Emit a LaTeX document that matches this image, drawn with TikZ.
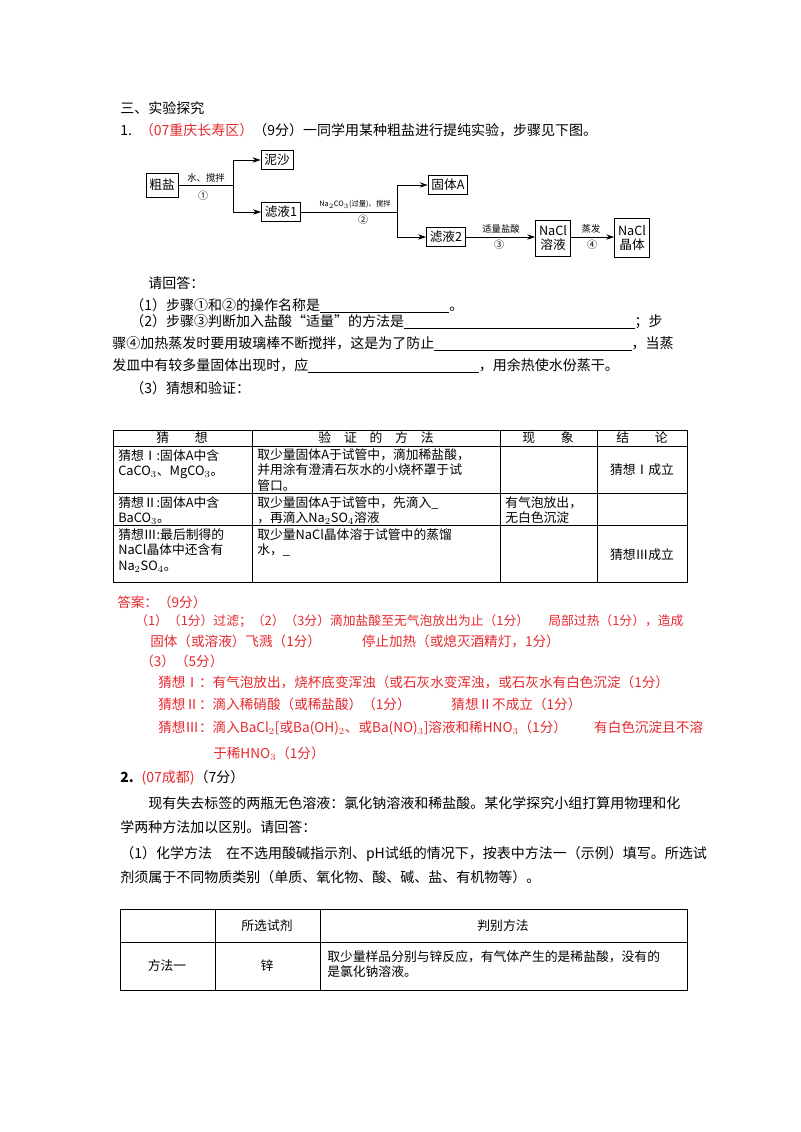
\documentclass[tikz,border=0pt]{standalone}
\usepackage{fontspec}
\setmainfont{Noto Sans CJK SC}
\usetikzlibrary{arrows.meta}
\definecolor{ans}{RGB}{230,40,45}
\tikzset{
 tx/.style={anchor=west,inner sep=0pt,font=\fontsize{10.5}{12}\selectfont},
 rt/.style={tx,text=ans,font=\fontsize{10.2}{12}\selectfont},
 bx/.style={draw,line width=0.7pt,inner sep=2.5pt,font=\fontsize{9.5}{11}\selectfont,align=center},
 fl/.style={line width=0.6pt},
 ar/.style={fl,-{Stealth[length=6pt,width=4pt]}},
 sm/.style={inner sep=0pt,font=\fontsize{7}{8}\selectfont},
 tb/.style={anchor=north west,inner sep=0pt,align=left,font=\fontsize{9.6}{11.6}\selectfont},
 tc/.style={inner sep=0pt,align=center,font=\fontsize{9.6}{12}\selectfont},
}
\newcommand{\blank}[1]{\underline{\hspace{#1}}}
\begin{document}
\begin{tikzpicture}[x=0.75pt,y=-0.75pt]
\useasboundingbox (0,0) rectangle (800,1132);
\node[tx] (h1) at (120,108) {三、实验探究};
\node[tx] (q1) at (120,130) {1.\hspace{6pt}\textcolor{ans}{（07重庆长寿区）}（9分）一同学用某种粗盐进行提纯实验，步骤见下图。};
% flowchart
\node[bx,minimum height=18pt] (cy) at (162,185) {粗盐};
\node[bx] (ns) at (277,160) {泥沙};
\node[bx] (l1) at (281,212) {滤液1};
\node[bx] (ga) at (448,185) {固体A};
\node[bx] (l2) at (446,237) {滤液2};
\node[bx,minimum height=27pt] (rn) at (553,238) {NaCl\\溶液};
\node[bx,minimum height=29pt] (jt) at (632,238) {NaCl\\晶体};
\coordinate (j1) at (233,185);
\coordinate (j2) at (397,212);
\draw[fl] (cy.east) -- (j1);
\draw[ar] (j1) |- (ns.west);
\draw[ar] (j1) |- (l1.west);
\draw[fl] (l1.east) -- (j2);
\draw[ar] (j2) |- (ga.west);
\draw[ar] (j2) |- (l2.west);
\draw[ar] (l2.east) -- (l2.east-|rn.west);
\draw[ar] (rn.east|-l2.east) -- (rn.east|-l2.east-|jt.west);
\node[sm] (s1) at (206,178) {水、搅拌};
\node[sm,font=\fontsize{7.5}{8}\selectfont] (c1) at (203,196) {①};
\node[sm,font=\fontsize{5.5}{6}\selectfont] (s2) at (355,204) {Na$_2$CO$_3$(过量)、搅拌};
\node[sm,font=\fontsize{7.5}{8}\selectfont] (c2) at (363,220) {②};
\node[sm] (s3) at (501,229) {适量盐酸};
\node[sm,font=\fontsize{7.5}{8}\selectfont] (c3) at (499,245) {③};
\node[sm] (s4) at (591,229) {蒸发};
\node[sm,font=\fontsize{7.5}{8}\selectfont] (c4) at (592,245) {④};
% questions
\node[tx] (r0) at (148,283) {请回答：};
\node[tx] (r1) at (130,306) {（1）步骤①和②的操作名称是\blank{97pt}。};
\node[tx] (r2) at (130,322) {（2）步骤③判断加入盐酸“适量”的方法是\blank{173pt}；步};
\node[tx] (r3) at (112,344) {骤④加热蒸发时要用玻璃棒不断搅拌，这是为了防止\blank{148pt}，当蒸};
\node[tx] (r4) at (112,366) {发皿中有较多量固体出现时，应\blank{128pt}，用余热使水份蒸干。};
\node[tx] (r5) at (130,388) {（3）猜想和验证：};
% table 1
\draw[line width=0.5pt] (113,430) rectangle (687,582);
\foreach \y in {446,493,525} \draw[line width=0.5pt] (113,\y) -- (687,\y);
\foreach \x in {252,500,597} \draw[line width=0.5pt] (\x,430) -- (\x,582);
\node[tc] (h11) at (182,438) {猜\hspace{2em}想};
\node[tc] (h12) at (376,438) {验\hspace{1em}证\hspace{1em}的\hspace{1em}方\hspace{1em}法};
\node[tc] (h13) at (548,438) {现\hspace{2em}象};
\node[tc] (h14) at (642,438) {结\hspace{2em}论};
\node[tb] (a11) at (118,449) {猜想Ⅰ:固体A中含\\CaCO$_3$、MgCO$_3$。};
\node[tb] (a12) at (257,448) {取少量固体A于试管中，滴加稀盐酸，\\并用涂有澄清石灰水的小烧杯罩于试\\管口。};
\node[tc] (a14) at (642,470) {猜想Ⅰ成立};
\node[tb] (a21) at (118,496) {猜想Ⅱ:固体A中含\\BaCO$_3$。};
\node[tb] (a22) at (257,496) {取少量固体A于试管中，先滴入\_\\，再滴入Na$_2$SO$_4$溶液};
\node[tb] (a23) at (505,496) {有气泡放出，\\无白色沉淀};
\node[tb] (a31) at (118,528) {猜想Ⅲ:最后制得的\\NaCl晶体中还含有\\Na$_2$SO$_4$。};
\node[tb] (a32) at (257,528) {取少量NaCl晶体溶于试管中的蒸馏\\水，\_};
\node[tc] (a34) at (642,555) {猜想Ⅲ成立};
% answers
\node[rt] (b0) at (117,602) {答案：（9分）};
\node[rt,font=\fontsize{9.6}{12}\selectfont] (b1) at (135,621) {（1）（1分）过滤；（2）（3分）滴加盐酸至无气泡放出为止（1分）\hspace{1.5em}局部过热（1分），造成};
\node[rt] (b2) at (150,641) {固体（或溶液）飞溅（1分）\hspace{3em}停止加热（或熄灭酒精灯，1分）};
\node[rt] (b3) at (140,661) {（3）（5分）};
\node[rt] (b4) at (158,682) {猜想Ⅰ：有气泡放出，烧杯底变浑浊（或石灰水变浑浊，或石灰水有白色沉淀（1分）};
\node[rt] (b5) at (158,704) {猜想Ⅱ：滴入稀硝酸（或稀盐酸）（1分）\hspace{3em}猜想Ⅱ不成立（1分）};
\node[rt] (b6) at (158,728) {猜想Ⅲ：滴入BaCl$_2$[或Ba(OH)$_2$、或Ba(NO)$_3$]溶液和稀HNO$_3$（1分）\hspace{2em}有白色沉淀且不溶};
\node[rt] (b7) at (213,754) {于稀HNO$_3$（1分）};
% question 2
\node[tx] (q2) at (120,778) {\textbf{2.}\hspace{6pt}\textcolor{ans}{(07成都)}（7分）};
\node[tx] (p1) at (148,803) {现有失去标签的两瓶无色溶液：氯化钠溶液和稀盐酸。某化学探究小组打算用物理和化};
\node[tx] (p2) at (120,827) {学两种方法加以区别。请回答：};
\node[tx] (p3) at (120,854) {（1）化学方法\hspace{1em}在不选用酸碱指示剂、pH试纸的情况下，按表中方法一（示例）填写。所选试};
\node[tx] (p4) at (120,877) {剂须属于不同物质类别（单质、氧化物、酸、碱、盐、有机物等）。};
% table 2
\draw[line width=0.5pt] (120,909) rectangle (687,990);
\draw[line width=0.5pt] (120,942) -- (687,942);
\foreach \x in {215,320} \draw[line width=0.5pt] (\x,909) -- (\x,990);
\node[tc] (k2) at (267,926) {所选试剂};
\node[tc] (k3) at (503,926) {判别方法};
\node[tc] (m1) at (167,966) {方法一};
\node[tc] (m2) at (267,966) {锌};
\node[tb] (m3) at (327,950) {取少量样品分别与锌反应，有气体产生的是稀盐酸，没有的\\是氯化钠溶液。};
\end{tikzpicture}
\end{document}
